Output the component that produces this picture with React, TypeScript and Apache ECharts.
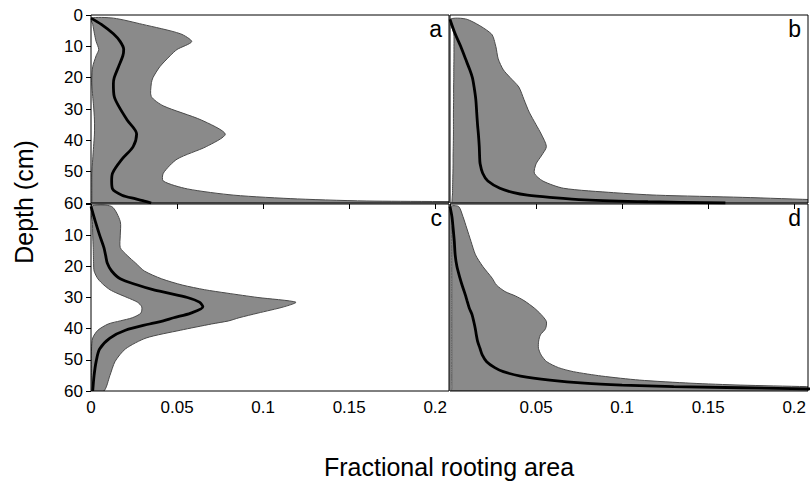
import React, { useEffect, useRef } from "react";
import * as echarts from "echarts";

// Axis ticks
const depthTicks = [0, 10, 20, 30, 40, 50, 60];
const xTicks = [0, 0.05, 0.1, 0.15, 0.2];
const panelLetters = ["a", "b", "c", "d"];

// Panel a
const depthA = [1, 3, 6, 8.5, 11, 13, 16.5, 20, 22, 26, 29, 33.5, 38, 42, 46, 50.5, 53, 55.5, 57.5, 58.7, 59.4, 60];
const lowerA = [0, 0.001, 0.002, 0.003, 0.0045, 0.003, 0.001, 0.0005, 0.0005, 0.001, 0.0015, 0.002, 0.002, 0.0015, 0.001, 0.0005, 0.0005, 0.0005, 0.0005, 0.0005, 0.0005, 0.0005];
const meanA = [0, 0.006, 0.013, 0.017, 0.019, 0.0185, 0.016, 0.0135, 0.013, 0.0135, 0.016, 0.021, 0.0265, 0.0245, 0.018, 0.0125, 0.012, 0.0125, 0.018, 0.026, 0.031, 0.035];
const upperA = [0.013, 0.03, 0.052, 0.0585, 0.05, 0.046, 0.04, 0.036, 0.035, 0.035, 0.042, 0.064, 0.078, 0.067, 0.05, 0.042, 0.042, 0.056, 0.083, 0.12, 0.165, 0.4];

// Panel b
const depthB = [1.4, 6, 10, 14, 17.5, 20, 23, 27, 31, 35, 38, 42, 45, 47.5, 50.5, 53, 55.3, 56.7, 57.5, 58.2, 59, 59.6, 60];
const lowerB = [0, 0.0022, 0.0023, 0.0023, 0.0022, 0.0022, 0.0021, 0.0021, 0.002, 0.002, 0.002, 0.0019, 0.0018, 0.0018, 0.0017, 0.0016, 0.0015, 0.0015, 0.0014, 0.0013, 0.0012, 0.0011, 0.001];
const meanB = [0, 0.003, 0.0062, 0.009, 0.0115, 0.013, 0.014, 0.015, 0.0155, 0.016, 0.0165, 0.017, 0.0172, 0.0175, 0.019, 0.022, 0.029, 0.037, 0.045, 0.058, 0.078, 0.115, 0.16];
const upperB = [0.01, 0.024, 0.0266, 0.028, 0.031, 0.035, 0.04, 0.043, 0.046, 0.05, 0.053, 0.056, 0.053, 0.05, 0.049, 0.054, 0.066, 0.095, 0.12, 0.17, 0.215, 0.26, 0.32];

// Panel c
const depthC = [0.8, 5.6, 10, 14, 16.5, 19, 21.5, 24, 26, 27.5, 28.6, 30, 31.5, 33, 35, 36.5, 37.5, 38.5, 40.5, 43, 46.5, 50.5, 55, 60];
const lowerC = [0, 0.0008, 0.001, 0.0013, 0.0014, 0.0015, 0.0018, 0.004, 0.0075, 0.011, 0.015, 0.021, 0.027, 0.0295, 0.029, 0.024, 0.017, 0.01, 0.004, 0.001, 0.0003, 0.0002, 0.0002, 0.0002];
const meanC = [0, 0.0025, 0.005, 0.0075, 0.0085, 0.0095, 0.012, 0.017, 0.027, 0.036, 0.045, 0.056, 0.063, 0.065, 0.058, 0.048, 0.042, 0.034, 0.02, 0.011, 0.005, 0.003, 0.0018, 0.001];
const upperC = [0.012, 0.017, 0.017, 0.017, 0.021, 0.026, 0.031, 0.041, 0.053, 0.066, 0.079, 0.097, 0.119, 0.112, 0.097, 0.086, 0.08, 0.07, 0.052, 0.032, 0.02, 0.014, 0.011, 0.0075];

// Panel d
const depthD = [0.8, 4, 7.7, 12, 16.3, 20, 23.8, 26, 28.1, 29.5, 31, 33.4, 35.5, 37.7, 40, 42, 44, 46.3, 48.5, 50.6, 52.5, 53.8, 55.2, 56.5, 57.5, 58.1, 58.6, 59.3, 60];
const lowerD = [0, 0.001, 0.001, 0.001, 0.001, 0.001, 0.001, 0.001, 0.001, 0.001, 0.001, 0.001, 0.001, 0.001, 0.001, 0.001, 0.001, 0.001, 0.001, 0.001, 0.001, 0.001, 0.001, 0.001, 0.001, 0.001, 0.001, 0.001, 0.001];
const meanD = [0, 0.0011, 0.0018, 0.0025, 0.003, 0.004, 0.0058, 0.007, 0.0083, 0.0091, 0.0099, 0.0112, 0.0128, 0.0138, 0.0147, 0.0153, 0.016, 0.0174, 0.0188, 0.0213, 0.026, 0.031, 0.041, 0.058, 0.078, 0.1, 0.13, 0.207, 0.26];
const upperD = [0.005, 0.0075, 0.0097, 0.0122, 0.0148, 0.019, 0.0245, 0.027, 0.032, 0.038, 0.043, 0.049, 0.053, 0.056, 0.0555, 0.0525, 0.0515, 0.0514, 0.053, 0.0562, 0.063, 0.0717, 0.088, 0.11, 0.14, 0.1686, 0.207, 0.26, 0.32];

const panels = [
  { depth: depthA, lower: lowerA, mean: meanA, upper: upperA },
  { depth: depthB, lower: lowerB, mean: meanB, upper: upperB },
  { depth: depthC, lower: lowerC, mean: meanC, upper: upperC },
  { depth: depthD, lower: lowerD, mean: meanD, upper: upperD },
];

const FONT = "'Liberation Sans', Arial, sans-serif";
const gridRects = [
  { left: 91, top: 15, width: 358, height: 188 },
  { left: 450, top: 15, width: 358, height: 188 },
  { left: 91, top: 204, width: 358, height: 187 },
  { left: 450, top: 204, width: 358, height: 187 },
];
const letterPos = [
  { x: 442, y: 29 },
  { x: 801, y: 29 },
  { x: 442, y: 218 },
  { x: 801, y: 218 },
];

function bandRenderer(depth: number[], lower: number[], upper: number[]) {
  return (params: any, api: any) => {
    if (params.dataIndex !== 0) return null;
    const pts: number[][] = [];
    for (let i = 0; i < depth.length; i++) pts.push(api.coord([lower[i], depth[i]]));
    for (let i = depth.length - 1; i >= 0; i--) pts.push(api.coord([upper[i], depth[i]]));
    return {
      type: "polygon",
      shape: { points: pts, smooth: 0.25 },
      style: { fill: "#8a8a8a", stroke: "#4a4a4a", lineWidth: 1 },
    };
  };
}

export default function App() {
  const ref = useRef<HTMLDivElement>(null);
  useEffect(() => {
    if (!ref.current) return;
    const chart = echarts.init(ref.current, undefined, { renderer: "svg" });
    const grid = gridRects.map((g) => ({
      ...g,
      show: true,
      borderColor: "#000",
      borderWidth: 1,
      backgroundColor: "transparent",
      z: 10,
    }));
    const xAxis = panels.map((_, i) => {
      const bottom = i >= 2;
      return {
        gridIndex: i,
        type: "value",
        min: 0,
        max: 0.208,
        axisLine: { show: false },
        splitLine: { show: false },
        axisTick: { show: bottom, length: 5, lineStyle: { color: "#000" }, customValues: xTicks },
        axisLabel: {
          show: bottom,
          customValues: i === 3 ? xTicks.slice(1) : xTicks,
          fontSize: 17,
          color: "#000",
          fontFamily: FONT,
          margin: 8,
        },
      };
    });
    const yAxis = panels.map((_, i) => {
      const left = i % 2 === 0;
      return {
        gridIndex: i,
        type: "value",
        inverse: true,
        min: 0,
        max: 60,
        interval: 10,
        axisLine: { show: false },
        splitLine: { show: false },
        axisTick: { show: left, length: 5, lineStyle: { color: "#000" }, customValues: depthTicks },
        axisLabel: {
          show: left,
          customValues: i === 2 ? depthTicks.slice(1) : depthTicks,
          fontSize: 17,
          color: "#000",
          fontFamily: FONT,
          margin: 8,
        },
      };
    });
    const series: any[] = [];
    panels.forEach((p, i) => {
      series.push({
        type: "custom",
        xAxisIndex: i,
        yAxisIndex: i,
        clip: true,
        silent: true,
        renderItem: bandRenderer(p.depth, p.lower, p.upper),
        data: p.depth.map((d, k) => [p.lower[k], d, p.upper[k]]),
        encode: { x: [0, 2], y: 1 },
        z: 2,
      });
      series.push({
        type: "line",
        xAxisIndex: i,
        yAxisIndex: i,
        data: p.depth.map((d, k) => [p.mean[k], d]),
        showSymbol: false,
        smooth: 0.3,
        clip: true,
        lineStyle: { color: "#000", width: 2.8 },
        z: 3,
      });
    });
    const graphic: any[] = panelLetters.map((l, i) => ({
      type: "text",
      x: letterPos[i].x,
      y: letterPos[i].y,
      z: 20,
      style: {
        text: l,
        fontSize: 23,
        fontFamily: FONT,
        fill: "#000",
        textAlign: "right",
        textVerticalAlign: "middle",
        align: "right",
        verticalAlign: "middle",
      },
    }));
    graphic.push({
      type: "text",
      x: 24,
      y: 202,
      rotation: Math.PI / 2,
      style: {
        text: "Depth (cm)",
        fontSize: 25,
        fontFamily: FONT,
        fill: "#000",
        textAlign: "center",
        textVerticalAlign: "middle",
        align: "center",
        verticalAlign: "middle",
      },
    });
    graphic.push({
      type: "text",
      x: 449,
      y: 467,
      style: {
        text: "Fractional rooting area",
        fontSize: 25,
        fontFamily: FONT,
        fill: "#000",
        textAlign: "center",
        textVerticalAlign: "middle",
        align: "center",
        verticalAlign: "middle",
      },
    });
    chart.setOption({
      animation: false,
      backgroundColor: "#fff",
      grid,
      xAxis,
      yAxis,
      series,
      graphic,
    });
    return () => chart.dispose();
  }, []);
  return (
    <div
      ref={ref}
      style={{ position: "absolute", left: 0, top: 0, width: 811, height: 482 }}
    />
  );
}
